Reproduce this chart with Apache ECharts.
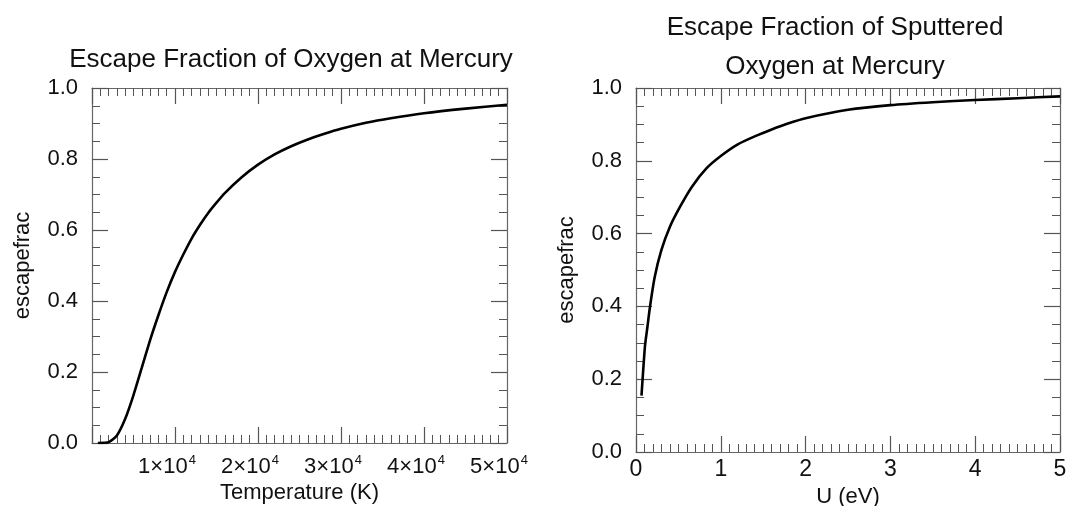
<!DOCTYPE html>
<html>
<head>
<meta charset="utf-8">
<script src="https://cdn.jsdelivr.net/npm/echarts@6/dist/echarts.min.js"></script>
<style>
  html, body { margin: 0; padding: 0; background: #fff; }
  #chart { width: 1067px; height: 506px; }
</style>
</head>
<body>
<div id="chart"></div>
<script>
// left panel: thermal escape vs temperature
var tempK = [700, 2000, 3000, 4000, 5000, 6000, 7000, 8000, 9000, 10000, 11000, 12000, 13000, 14000, 15000, 16000, 18000, 20000, 22000, 24000, 26000, 28000, 30000, 33000, 36000, 40000, 45000, 50000]
var escapeThermal = [0.0, 0.002, 0.021, 0.068, 0.135, 0.212, 0.29, 0.36, 0.425, 0.482, 0.531, 0.576, 0.614, 0.648, 0.677, 0.704, 0.748, 0.784, 0.813, 0.836, 0.855, 0.871, 0.885, 0.902, 0.915, 0.929, 0.942, 0.953]

// right panel: sputtered escape vs binding energy U
var energyU = [0.065, 0.105, 0.135, 0.165, 0.22, 0.3, 0.4, 0.52, 0.66, 0.83, 1.0, 1.2, 1.4, 1.6, 1.8, 2.0, 2.5, 3.0, 3.5, 4.0, 4.5, 5.0]
var escapeSputter = [0.155, 0.289, 0.344, 0.399, 0.48, 0.555, 0.619, 0.674, 0.729, 0.779, 0.813, 0.845, 0.867, 0.886, 0.903, 0.917, 0.94, 0.953, 0.961, 0.967, 0.972, 0.977]

var tempTicks = ['', '1', '2', '3', '4', '5']

var FONT = '"Liberation Sans", Arial, Helvetica, sans-serif'
var frameColor = '#666'
var tickColor = '#555'

function pairs(xs, ys) {
  return xs.map(function(x, i) { return [x, ys[i]] })
}

function xAxisCfg(grid, pos, opts) {
  var bottom = pos === 'bottom'
  return Object.assign({
    type: 'value',
    gridIndex: grid,
    position: pos,
    axisLine: { show: true, onZero: false, lineStyle: { color: frameColor, width: 1.2 } },
    axisTick: { show: true, inside: true, length: 16, lineStyle: { color: tickColor, width: 1.2 } },
    minorTick: { show: true, splitNumber: 10, length: 8, lineStyle: { color: tickColor, width: 1 } },
    splitLine: { show: false },
    axisLabel: { show: bottom, fontFamily: FONT, fontSize: 22, color: '#111' },
    nameLocation: 'middle',
    nameTextStyle: { fontFamily: FONT, fontSize: 22, color: '#111' }
  }, opts)
}

function yAxisCfg(grid, pos, opts) {
  var left = pos === 'left'
  return Object.assign({
    type: 'value',
    gridIndex: grid,
    position: pos,
    min: 0,
    max: 1,
    interval: 0.2,
    axisLine: { show: true, onZero: false, lineStyle: { color: frameColor, width: 1.2 } },
    axisTick: { show: true, inside: true, length: 16, lineStyle: { color: tickColor, width: 1.2 } },
    minorTick: { show: true, splitNumber: 4, length: 8, lineStyle: { color: tickColor, width: 1 } },
    splitLine: { show: false },
    axisLabel: {
      show: left, fontFamily: FONT, fontSize: 22, color: '#111', margin: 14,
      formatter: function(v) { return v.toFixed(1) }
    },
    name: left ? 'escapefrac' : '',
    nameLocation: 'middle',
    nameTextStyle: { fontFamily: FONT, fontSize: 22, color: '#111' }
  }, opts)
}

var chart = echarts.init(document.getElementById('chart'))
chart.setOption({
  backgroundColor: '#fff',
  animation: false,
  title: [
    {
      text: 'Escape Fraction of Oxygen at Mercury',
      left: 286, top: 42, textAlign: 'center',
      textStyle: { fontFamily: FONT, fontSize: 26, fontWeight: 'normal', color: '#111' }
    },
    {
      text: 'Escape Fraction of Sputtered\nOxygen at Mercury',
      left: 830, top: 3, textAlign: 'center',
      textStyle: { fontFamily: FONT, fontSize: 26, fontWeight: 'normal', color: '#111', lineHeight: 39 }
    }
  ],
  grid: [
    { left: 92, top: 88, width: 415, height: 355, outerBoundsMode: 'none', containLabel: false },
    { left: 636, top: 88, width: 424, height: 364, outerBoundsMode: 'none', containLabel: false }
  ],
  xAxis: [
    xAxisCfg(0, 'bottom', {
      min: 0, max: 50000, interval: 10000,
      name: 'Temperature (K)', nameGap: 36,
      axisLabel: {
        show: true, margin: 11, padding: [0, 16, 0, 0],
        fontFamily: FONT, fontSize: 22, color: '#111',
        formatter: function(v) {
          var k = tempTicks[Math.round(v / 10000)]
          return k ? '{b|' + k + '×10}{s|4}' : ''
        },
        rich: {
          b: { fontFamily: FONT, fontSize: 22, color: '#111' },
          s: { fontFamily: FONT, fontSize: 13, color: '#111', verticalAlign: 'top', padding: [0, 0, 12, 1] }
        }
      }
    }),
    xAxisCfg(0, 'top', { min: 0, max: 50000, interval: 10000 }),
    xAxisCfg(1, 'bottom', {
      min: 0, max: 5, interval: 1,
      name: 'U (eV)', nameGap: 29,
      axisLabel: { show: true, margin: 6, fontFamily: FONT, fontSize: 23, color: '#111' }
    }),
    xAxisCfg(1, 'top', { min: 0, max: 5, interval: 1 })
  ],
  yAxis: [
    yAxisCfg(0, 'left', { nameGap: 58 }),
    yAxisCfg(0, 'right'),
    yAxisCfg(1, 'left', { nameGap: 58 }),
    yAxisCfg(1, 'right')
  ],
  series: [
    {
      name: 'thermal',
      type: 'line',
      xAxisIndex: 0,
      yAxisIndex: 0,
      data: pairs(tempK, escapeThermal),
      showSymbol: false,
      smooth: 0.2,
      lineStyle: { color: '#000', width: 2.6 }
    },
    {
      name: 'sputtered',
      type: 'line',
      xAxisIndex: 2,
      yAxisIndex: 2,
      data: pairs(energyU, escapeSputter),
      showSymbol: false,
      smooth: 0.2,
      lineStyle: { color: '#000', width: 2.6 }
    }
  ]
})
</script>
</body>
</html>
